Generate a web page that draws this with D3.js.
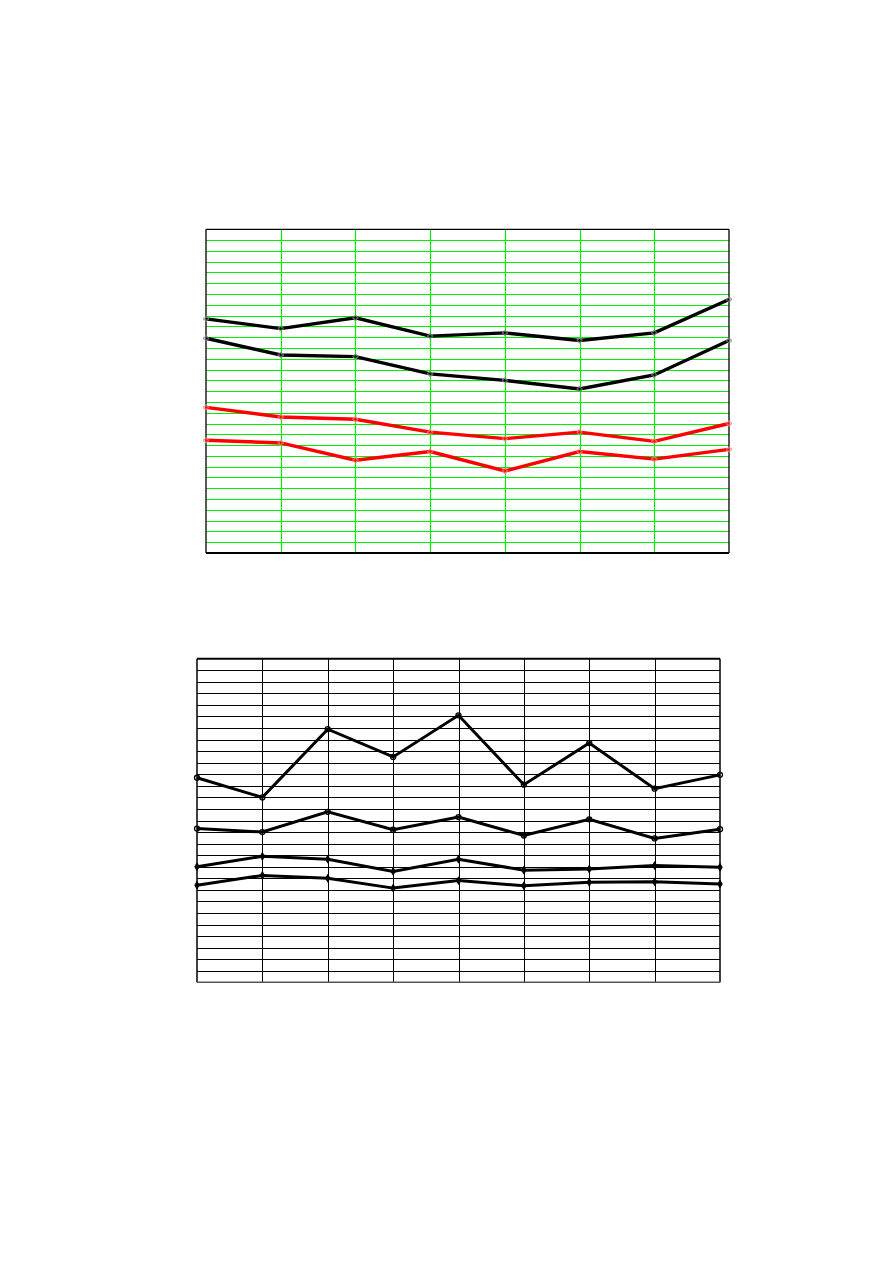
<!DOCTYPE html>
<html>
<head>
<meta charset="utf-8">
<script src="https://cdn.jsdelivr.net/npm/d3@7"></script>
<style>
  html, body { margin: 0; padding: 0; background: #fff; }
  svg { display: block; }
</style>
</head>
<body>
<svg id="chart" width="893" height="1263"></svg>
<script>
// ---- Chart 1 data (8 points per series, y in grid units 0..30) ----
const chart1X = [0, 1, 2, 3, 4, 5, 6, 7];
const chart1BlackUpper = [21.7, 20.8, 21.8, 20.1, 20.4, 19.7, 20.4, 23.5];
const chart1BlackLower = [19.9, 18.35, 18.2, 16.6, 16.0, 15.2, 16.5, 19.7];
const chart1RedUpper = [13.5, 12.6, 12.4, 11.2, 10.6, 11.2, 10.35, 12.0];
const chart1RedLower = [10.45, 10.2, 8.6, 9.4, 7.6, 9.4, 8.7, 9.6];
const chart1YTicks = d3.range(0, 31);

// ---- Chart 2 data (9 points per series, y in grid units 0..28) ----
const chart2X = [0, 1, 2, 3, 4, 5, 6, 7, 8];
const chart2A = [17.7, 16.0, 21.9, 19.5, 23.1, 17.1, 20.7, 16.75, 17.95];
const chart2B = [13.3, 13.0, 14.75, 13.2, 14.3, 12.7, 14.1, 12.45, 13.25];
const chart2C = [10.0, 10.9, 10.65, 9.6, 10.65, 9.7, 9.8, 10.1, 9.95];
const chart2D = [8.4, 9.25, 9.0, 8.15, 8.8, 8.35, 8.65, 8.7, 8.5];
const chart2YTicks = d3.range(0, 29);

const svg = d3.select("#chart");

// ================= Chart 1 =================
(function () {
  const left = 206, right = 729, top = 229.3, bottom = 553;
  const x = d3.scaleLinear().domain([0, 7]).range([left, right]);
  const y = d3.scaleLinear().domain([0, 30]).range([bottom, top]);
  const g = svg.append("g");
  const green = "#00ee00";

  g.selectAll("line.h").data(chart1YTicks.slice(1, -1)).join("line")
    .attr("x1", left).attr("x2", right)
    .attr("y1", d => Math.round(y(d)) + 0.5).attr("y2", d => Math.round(y(d)) + 0.5)
    .attr("stroke", green).attr("stroke-width", 1.2);
  g.selectAll("line.v").data(chart1X.slice(1, -1)).join("line")
    .attr("y1", top).attr("y2", bottom)
    .attr("x1", d => Math.round(x(d)) + 0.5).attr("x2", d => Math.round(x(d)) + 0.5)
    .attr("stroke", green).attr("stroke-width", 1.2);
  g.append("line").attr("x1", left).attr("x2", right).attr("y1", top).attr("y2", top).attr("stroke", "#000").attr("stroke-width", 1.3);
  g.append("line").attr("x1", left).attr("x2", left).attr("y1", top).attr("y2", bottom).attr("stroke", "#000").attr("stroke-width", 1.3);
  g.append("line").attr("x1", right).attr("x2", right).attr("y1", top).attr("y2", bottom).attr("stroke", "#000").attr("stroke-width", 1.3);
  g.append("line").attr("x1", left).attr("x2", right).attr("y1", bottom).attr("y2", bottom).attr("stroke", "#000").attr("stroke-width", 2);

  const line = d3.line().x((d, i) => x(chart1X[i])).y(d => y(d));
  const series = [
    { v: chart1BlackUpper, c: "#000" },
    { v: chart1BlackLower, c: "#000" },
    { v: chart1RedUpper, c: "#ff0000" },
    { v: chart1RedLower, c: "#ff0000" }
  ];
  series.forEach(s => {
    g.append("path").datum(s.v).attr("d", line)
      .attr("fill", "none").attr("stroke", s.c).attr("stroke-width", 3.4);
    g.selectAll(null).data(s.v).join("path")
      .attr("transform", (d, i) => `translate(${x(chart1X[i])},${y(d)})`)
      .attr("d", d3.symbol(d3.symbolCross, 14)())
      .attr("fill", "none").attr("stroke", s.c === "#000" ? "#888" : "#ff8080").attr("stroke-width", 0.8);
  });
})();

// ================= Chart 2 =================
(function () {
  const left = 197, right = 720, top = 658.7, bottom = 982.3;
  const x = d3.scaleLinear().domain([0, 8]).range([left, right]);
  const y = d3.scaleLinear().domain([0, 28]).range([bottom, top]);
  const g = svg.append("g");

  g.selectAll("line.h").data(chart2YTicks.slice(1, -1)).join("line")
    .attr("x1", left).attr("x2", right)
    .attr("y1", d => Math.round(y(d)) + 0.5).attr("y2", d => Math.round(y(d)) + 0.5)
    .attr("stroke", "#000").attr("stroke-width", 1);
  g.selectAll("line.v").data(chart2X.slice(1, -1)).join("line")
    .attr("y1", top).attr("y2", bottom)
    .attr("x1", d => Math.round(x(d)) + 0.5).attr("x2", d => Math.round(x(d)) + 0.5)
    .attr("stroke", "#000").attr("stroke-width", 1);
  g.append("line").attr("x1", left).attr("x2", right).attr("y1", top).attr("y2", top).attr("stroke", "#000").attr("stroke-width", 2);
  g.append("line").attr("x1", left).attr("x2", left).attr("y1", top).attr("y2", bottom).attr("stroke", "#000").attr("stroke-width", 1.5);
  g.append("line").attr("x1", right).attr("x2", right).attr("y1", top).attr("y2", bottom).attr("stroke", "#000").attr("stroke-width", 1.5);
  g.append("line").attr("x1", left).attr("x2", right).attr("y1", bottom).attr("y2", bottom).attr("stroke", "#555").attr("stroke-width", 1.5);

  const line = d3.line().x((d, i) => x(chart2X[i])).y(d => y(d));
  const series = [
    { v: chart2A, m: "circle" },
    { v: chart2B, m: "circle" },
    { v: chart2C, m: "diamond" },
    { v: chart2D, m: "diamond" }
  ];
  series.forEach(s => {
    g.append("path").datum(s.v).attr("d", line)
      .attr("fill", "none").attr("stroke", "#000").attr("stroke-width", 3);
    if (s.m === "circle") {
      g.selectAll(null).data(s.v).join("circle")
        .attr("cx", (d, i) => x(chart2X[i])).attr("cy", d => y(d)).attr("r", 2.5)
        .attr("fill", "none").attr("stroke", "#000").attr("stroke-width", 1.3);
    } else {
      g.selectAll(null).data(s.v).join("path")
        .attr("transform", (d, i) => `translate(${x(chart2X[i])},${y(d)})`)
        .attr("d", d3.symbol(d3.symbolDiamond, 18)())
        .attr("fill", "#000").attr("stroke", "#000").attr("stroke-width", 0.8);
    }
  });
})();
</script>
</body>
</html>
